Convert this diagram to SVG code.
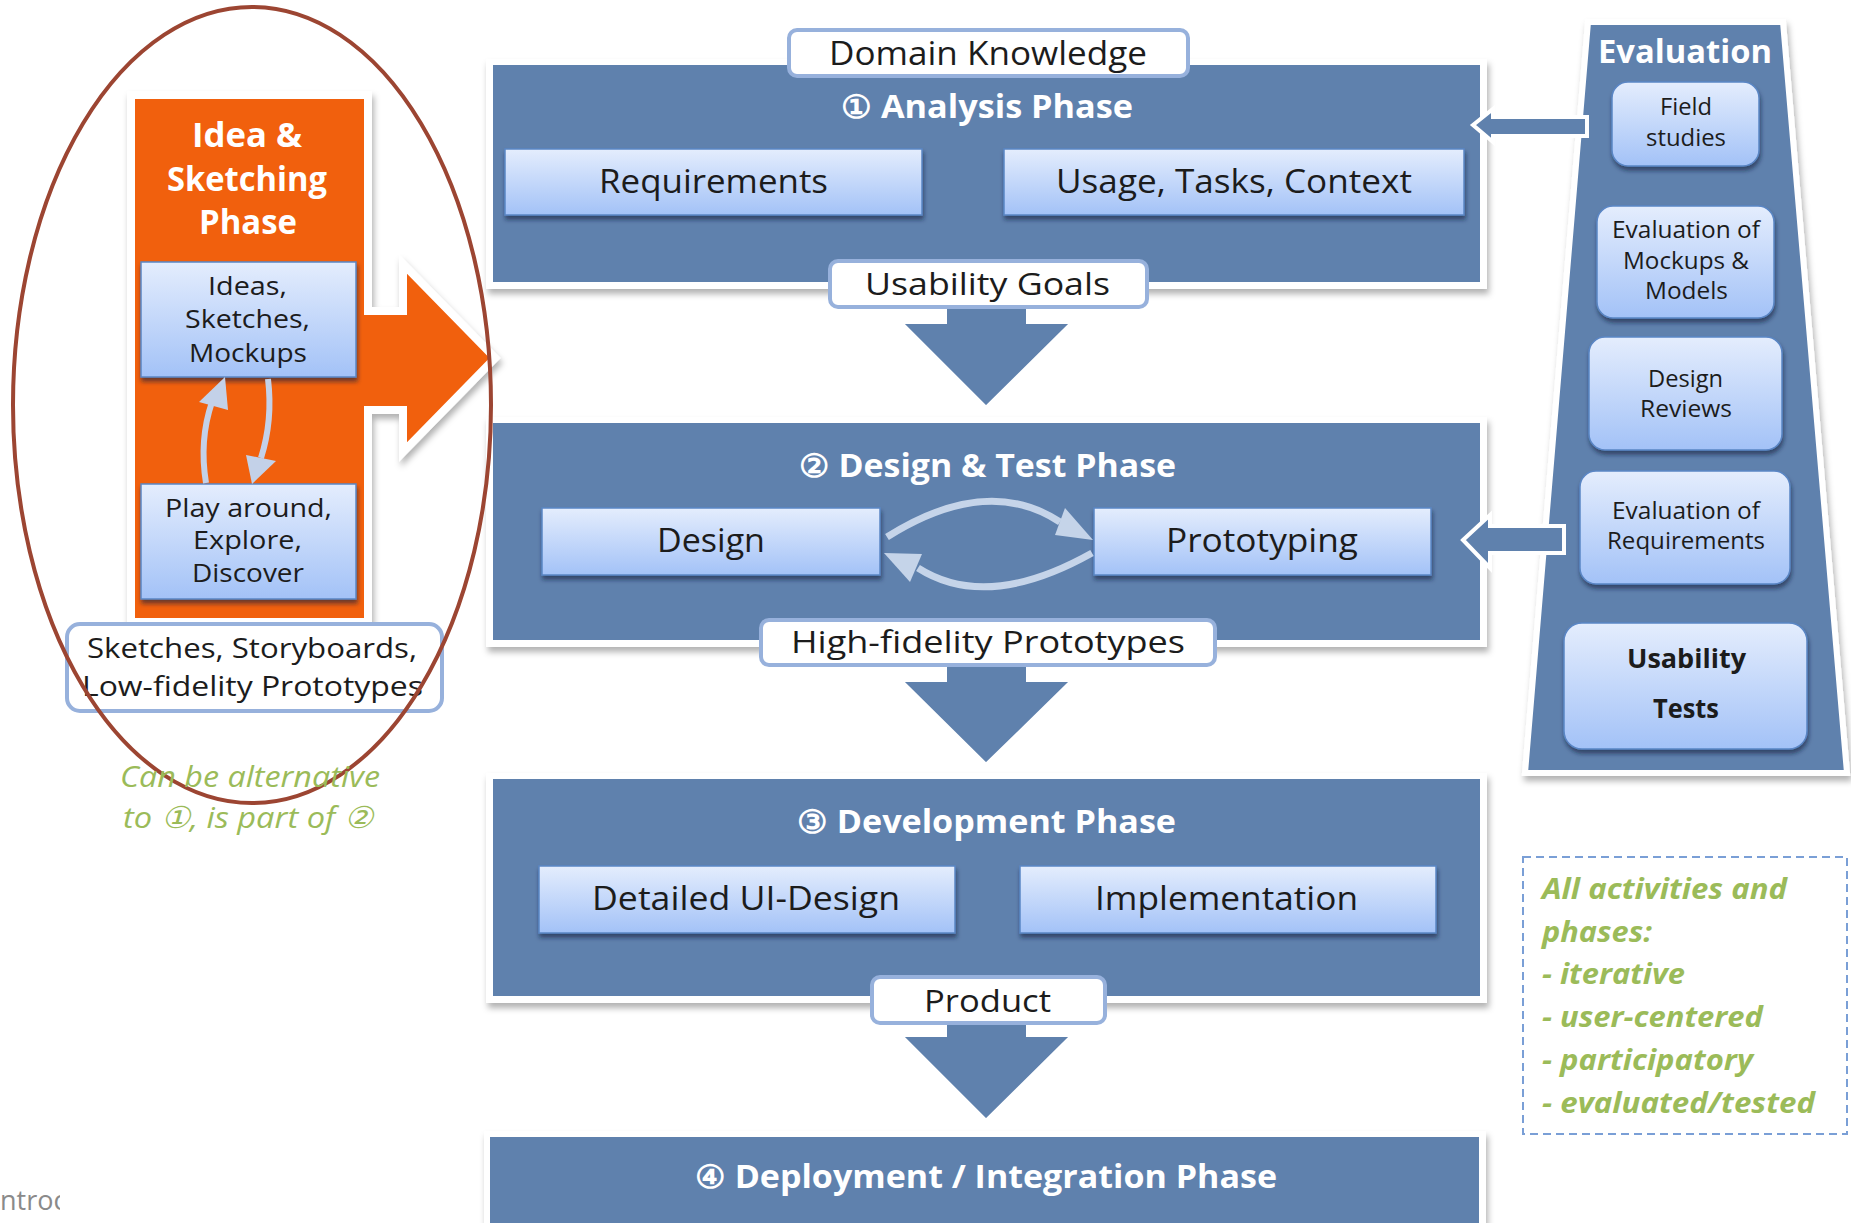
<svg xmlns="http://www.w3.org/2000/svg" width="1851" height="1223" viewBox="0 0 1851 1223">
<style>
.phase{fill:#5f81ad}
.frame{fill:#ffffff}
.lbl{fill:#ffffff;stroke:#97b1dc;stroke-width:4}
.box{fill:url(#gb);stroke:#5a86c5;stroke-width:1.5}
.t{font-family:"Open Sans","Liberation Sans",sans-serif;fill:#1c1c1c}
.tw{font-family:"Open Sans","Liberation Sans",sans-serif;fill:#ffffff;font-weight:bold}
.tg{font-family:"Open Sans","Liberation Sans",sans-serif;fill:#9bbb59;font-style:italic}
.arr{fill:#5f81ad;stroke:#ffffff;stroke-width:4;stroke-linejoin:miter}
.cv{fill:none;stroke:#c5d4e9;stroke-width:7}
.cvh{fill:#c5d4e9}
</style>
<defs>
<linearGradient id="gb" x1="0" y1="0" x2="0" y2="1">
<stop offset="0" stop-color="#e4edfd"/>
<stop offset="1" stop-color="#a3c2f7"/>
</linearGradient>
<filter id="sh" x="-10%" y="-10%" width="120%" height="130%">
<feDropShadow dx="1" dy="4" stdDeviation="2" flood-color="#10203a" flood-opacity="0.6"/>
</filter>
<filter id="sh2" x="-10%" y="-10%" width="120%" height="130%">
<feDropShadow dx="2" dy="5" stdDeviation="3" flood-color="#000000" flood-opacity="0.3"/>
</filter>
<clipPath id="cl"><rect x="0" y="1180" width="60" height="43"/></clipPath>
</defs>
<rect width="1851" height="1223" fill="#ffffff"/>

<g id="connectors">
<!-- down arrows -->
<polygon class="arr" points="945,300 1028,300 1028,322 1073,322 986,408 900,322 945,322"/>
<polygon class="arr" points="945,660 1028,660 1028,680 1073,680 986,765 900,680 945,680"/>
<polygon class="arr" points="945,1018 1028,1018 1028,1035 1073,1035 986,1121 900,1035 945,1035"/>
</g>

<g id="analysis-phase">
<rect class="frame" x="486" y="59" width="1001" height="230" filter="url(#sh2)"/>
<rect class="phase" x="493" y="65" width="987" height="217"/>
<text class="tw" x="841" y="118" font-size="32" textLength="292" lengthAdjust="spacingAndGlyphs">① Analysis Phase</text>
<g id="requirements">
<rect class="box" x="505" y="149" width="417" height="66" filter="url(#sh)"/>
<text class="t" x="599" y="193" font-size="33" textLength="229" lengthAdjust="spacingAndGlyphs">Requirements</text>
</g>
<g id="usage">
<rect class="box" x="1004" y="149" width="460" height="66" filter="url(#sh)"/>
<text class="t" x="1056" y="193" font-size="33" textLength="356" lengthAdjust="spacingAndGlyphs">Usage, Tasks, Context</text>
</g>
</g>
<g id="domain-knowledge">
<rect class="lbl" x="789" y="30" width="399" height="46" rx="8"/>
<text class="t" x="829" y="65" font-size="32" textLength="318" lengthAdjust="spacingAndGlyphs">Domain Knowledge</text>
</g>
<g id="usability-goals">
<rect class="lbl" x="830" y="261" width="317" height="46" rx="8"/>
<text class="t" x="865" y="295" font-size="31" textLength="245" lengthAdjust="spacingAndGlyphs">Usability Goals</text>
</g>

<g id="design-test-phase">
<rect class="frame" x="486" y="417" width="1001" height="230" filter="url(#sh2)"/>
<rect class="phase" x="493" y="423" width="987" height="217"/>
<text class="tw" x="799" y="477" font-size="32" textLength="377" lengthAdjust="spacingAndGlyphs">② Design &amp; Test Phase</text>
<g id="design">
<rect class="box" x="542" y="508" width="338" height="67" filter="url(#sh)"/>
<text class="t" x="657" y="552" font-size="33" textLength="108" lengthAdjust="spacingAndGlyphs">Design</text>
</g>
<g id="prototyping">
<rect class="box" x="1094" y="508" width="337" height="67" filter="url(#sh)"/>
<text class="t" x="1166" y="552" font-size="33" textLength="192" lengthAdjust="spacingAndGlyphs">Prototyping</text>
</g>
<g id="cycle">
<path class="cv" d="M887,537 Q987,474 1060,522"/>
<polygon class="cvh" points="1093,540 1065,508 1055,535"/>
<path class="cv" d="M1092,553 Q987,612 918,568"/>
<polygon class="cvh" points="884,553 922,554 910,582"/>
</g>
</g>
<g id="hifi">
<rect class="lbl" x="761" y="620" width="454" height="45" rx="8"/>
<text class="t" x="791" y="653" font-size="31" textLength="394" lengthAdjust="spacingAndGlyphs">High-fidelity Prototypes</text>
</g>

<g id="development-phase">
<rect class="frame" x="486" y="773" width="1001" height="230" filter="url(#sh2)"/>
<rect class="phase" x="493" y="779" width="987" height="217"/>
<text class="tw" x="797" y="833" font-size="32" textLength="379" lengthAdjust="spacingAndGlyphs">③ Development Phase</text>
<g id="detailed-ui">
<rect class="box" x="539" y="866" width="416" height="67" filter="url(#sh)"/>
<text class="t" x="592" y="910" font-size="33" textLength="308" lengthAdjust="spacingAndGlyphs">Detailed UI-Design</text>
</g>
<g id="implementation">
<rect class="box" x="1020" y="866" width="416" height="67" filter="url(#sh)"/>
<text class="t" x="1095" y="910" font-size="33" textLength="263" lengthAdjust="spacingAndGlyphs">Implementation</text>
</g>
</g>
<g id="product">
<rect class="lbl" x="872" y="977" width="233" height="46" rx="8"/>
<text class="t" x="924" y="1012" font-size="31" textLength="127" lengthAdjust="spacingAndGlyphs">Product</text>
</g>

<g id="deployment-phase">
<rect class="frame" x="484" y="1131" width="1002" height="100" filter="url(#sh2)"/>
<rect class="phase" x="490" y="1137" width="989" height="86"/>
<text class="tw" x="695" y="1188" font-size="32" textLength="582" lengthAdjust="spacingAndGlyphs">④ Deployment / Integration Phase</text>
</g>

<g id="evaluation">
<polygon points="1588,22 1783,22 1847,773 1525,773" fill="#5f81ad" stroke="#ffffff" stroke-width="6" stroke-linejoin="miter" filter="url(#sh2)"/>
<text class="tw" x="1598" y="63" font-size="33" textLength="174" lengthAdjust="spacingAndGlyphs">Evaluation</text>
<g id="field-studies">
<rect class="box" x="1612" y="82" width="147" height="84" rx="16" filter="url(#sh)"/>
<text class="t" x="1660" y="115" font-size="23" textLength="52" lengthAdjust="spacingAndGlyphs">Field</text>
<text class="t" x="1646" y="146" font-size="23" textLength="80" lengthAdjust="spacingAndGlyphs">studies</text>
</g>
<g id="eval-mockups">
<rect class="box" x="1597" y="206" width="177" height="112" rx="16" filter="url(#sh)"/>
<text class="t" x="1612" y="238" font-size="23" textLength="148" lengthAdjust="spacingAndGlyphs">Evaluation of</text>
<text class="t" x="1623" y="269" font-size="23" textLength="126" lengthAdjust="spacingAndGlyphs">Mockups &amp;</text>
<text class="t" x="1645" y="299" font-size="23" textLength="83" lengthAdjust="spacingAndGlyphs">Models</text>
</g>
<g id="design-reviews">
<rect class="box" x="1589" y="337" width="193" height="113" rx="16" filter="url(#sh)"/>
<text class="t" x="1648" y="387" font-size="23" textLength="75" lengthAdjust="spacingAndGlyphs">Design</text>
<text class="t" x="1640" y="417" font-size="23" textLength="92" lengthAdjust="spacingAndGlyphs">Reviews</text>
</g>
<g id="eval-requirements">
<rect class="box" x="1580" y="471" width="210" height="113" rx="16" filter="url(#sh)"/>
<text class="t" x="1612" y="519" font-size="23" textLength="148" lengthAdjust="spacingAndGlyphs">Evaluation of</text>
<text class="t" x="1607" y="549" font-size="23" textLength="158" lengthAdjust="spacingAndGlyphs">Requirements</text>
</g>
<g id="usability-tests">
<rect class="box" x="1564" y="623" width="243" height="126" rx="18" filter="url(#sh)"/>
<text class="t" x="1627" y="668" font-size="27" font-weight="bold" textLength="119" lengthAdjust="spacingAndGlyphs">Usability</text>
<text class="t" x="1653" y="718" font-size="27" font-weight="bold" textLength="66" lengthAdjust="spacingAndGlyphs">Tests</text>
</g>
</g>

<g id="feedback-arrows">
<polygon class="arr" points="1473,125 1493,109 1493,117 1587,117 1587,136 1493,136 1493,142"/>
<polygon class="arr" points="1463,540 1490,515 1490,526 1564,526 1564,553 1490,553 1490,568"/>
</g>

<g id="idea-sketching">
<path d="M131,95 L368,95 L368,311 L403,311 L403,264 L495,358 L403,452 L403,410 L368,410 L368,622 L131,622 Z" fill="#f1600f" stroke="#ffffff" stroke-width="8" stroke-linejoin="miter" filter="url(#sh2)"/>
<text class="tw" x="192" y="147" font-size="34" textLength="110" lengthAdjust="spacingAndGlyphs">Idea &amp;</text>
<text class="tw" x="167" y="191" font-size="34" textLength="160" lengthAdjust="spacingAndGlyphs">Sketching</text>
<text class="tw" x="199" y="234" font-size="34" textLength="98" lengthAdjust="spacingAndGlyphs">Phase</text>
<g id="ideas">
<rect class="box" x="141" y="262" width="215" height="115" filter="url(#sh)"/>
<text class="t" x="208" y="295" font-size="25" textLength="79" lengthAdjust="spacingAndGlyphs">Ideas,</text>
<text class="t" x="185" y="328" font-size="25" textLength="125" lengthAdjust="spacingAndGlyphs">Sketches,</text>
<text class="t" x="189" y="362" font-size="25" textLength="118" lengthAdjust="spacingAndGlyphs">Mockups</text>
</g>
<g id="play">
<rect class="box" x="141" y="484" width="215" height="115" filter="url(#sh)"/>
<text class="t" x="165" y="517" font-size="25" textLength="167" lengthAdjust="spacingAndGlyphs">Play around,</text>
<text class="t" x="193" y="549" font-size="25" textLength="109" lengthAdjust="spacingAndGlyphs">Explore,</text>
<text class="t" x="192" y="582" font-size="25" textLength="112" lengthAdjust="spacingAndGlyphs">Discover</text>
</g>
<g id="small-cycle">
<path d="M206,483 Q199,440 212,402" fill="none" stroke="#c3d1e8" stroke-width="6"/>
<polygon points="225,377 199,402 228,410" fill="#c3d1e8"/>
<path d="M268,379 Q273,420 261,458" fill="none" stroke="#c3d1e8" stroke-width="6"/>
<polygon points="252,484 246,455 276,461" fill="#c3d1e8"/>
</g>
</g>
<g id="sketch-output">
<rect class="lbl" x="67" y="624" width="375" height="87" rx="13"/>
<text class="t" x="87" y="658" font-size="27" textLength="330" lengthAdjust="spacingAndGlyphs">Sketches, Storyboards,</text>
<text class="t" x="82" y="696" font-size="27" textLength="341" lengthAdjust="spacingAndGlyphs">Low-fidelity Prototypes</text>
</g>
<ellipse cx="252" cy="405" rx="239" ry="398" fill="none" stroke="#9c4532" stroke-width="4"/>
<g id="note-left">
<text class="tg" x="120" y="787" font-size="30" textLength="260" lengthAdjust="spacingAndGlyphs">Can be alternative</text>
<text class="tg" x="123" y="828" font-size="30" textLength="250" lengthAdjust="spacingAndGlyphs">to ①, is part of ②</text>
</g>

<g id="note-right">
<rect x="1523" y="857" width="324" height="277" fill="none" stroke="#7a9fd6" stroke-width="2" stroke-dasharray="8,5"/>
<text class="tg" x="1542" y="899" font-size="29" font-weight="bold" textLength="245" lengthAdjust="spacingAndGlyphs">All activities and</text>
<text class="tg" x="1542" y="942" font-size="29" font-weight="bold" textLength="110" lengthAdjust="spacingAndGlyphs">phases:</text>
<text class="tg" x="1542" y="984" font-size="29" font-weight="bold" textLength="143" lengthAdjust="spacingAndGlyphs">- iterative</text>
<text class="tg" x="1542" y="1027" font-size="29" font-weight="bold" textLength="221" lengthAdjust="spacingAndGlyphs">- user-centered</text>
<text class="tg" x="1542" y="1070" font-size="29" font-weight="bold" textLength="211" lengthAdjust="spacingAndGlyphs">- participatory</text>
<text class="tg" x="1542" y="1113" font-size="29" font-weight="bold" textLength="273" lengthAdjust="spacingAndGlyphs">- evaluated/tested</text>
</g>

<g id="footer" clip-path="url(#cl)">
<text x="0" y="1210" font-family="Open Sans, Liberation Sans, sans-serif" font-size="27" fill="#8a8a8a">ntroc</text>
</g>
</svg>
